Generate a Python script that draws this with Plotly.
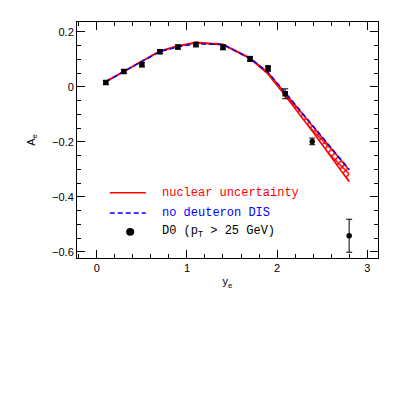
import plotly.graph_objects as go

# curve nodes
ye_curve = [0.1, 0.3, 0.5, 0.7, 0.9, 1.1, 1.4, 1.7, 1.9, 2.1, 2.4, 2.8]
nuc_upper = [0.020, 0.058, 0.096, 0.131, 0.150, 0.162, 0.155, 0.106, 0.052, -0.026, -0.145, -0.302]
nuc_lower = [0.018, 0.056, 0.094, 0.129, 0.148, 0.160, 0.153, 0.103, 0.046, -0.036, -0.165, -0.345]
no_deut = [0.019, 0.057, 0.093, 0.128, 0.146, 0.157, 0.154, 0.104, 0.053, -0.024, -0.143, -0.300]

# D0 data
ye_d0 = [0.1, 0.3, 0.5, 0.7, 0.9, 1.1, 1.4, 1.7, 1.9, 2.09, 2.39, 2.8]
ae_d0 = [0.016, 0.056, 0.081, 0.128, 0.145, 0.154, 0.144, 0.102, 0.067, -0.025, -0.198, -0.541]
err_d0 = [0.007, 0.007, 0.008, 0.007, 0.007, 0.008, 0.009, 0.009, 0.010, 0.018, 0.012, 0.060]
sym_d0 = ["square"] * 10 + ["circle"] * 2

x_ticks = [0, 1, 2, 3]
y_ticks = [0.2, 0, -0.2, -0.4, -0.6]
y_ticktext = ["0.2", "0", "\u22120.2", "\u22120.4", "\u22120.6"]

RED = "#ff0000"
BLUE = "#0000ff"
MONO = "Liberation Mono, Courier New, monospace"
SANS = "Liberation Sans, Arial, sans-serif"

fig = go.Figure()

# hatched uncertainty band
fig.add_trace(go.Scatter(x=ye_curve, y=nuc_lower, mode="lines",
                         line=dict(color=RED, width=1.5), showlegend=False))
fig.add_trace(go.Scatter(x=ye_curve, y=nuc_upper, mode="lines",
                         line=dict(color=RED, width=1.5), fill="tonexty",
                         fillpattern=dict(shape="x", fgcolor=RED, bgcolor="white",
                                          size=5, solidity=0.5, fillmode="replace"),
                         showlegend=False))

fig.add_trace(go.Scatter(x=ye_curve, y=no_deut, mode="lines",
                         line=dict(color=BLUE, width=1.5, dash="5px,3px"),
                         showlegend=False))

fig.add_trace(go.Scatter(x=ye_d0, y=ae_d0, mode="markers",
                         marker=dict(symbol=sym_d0, size=5.5, color="black"),
                         error_y=dict(type="data", array=err_d0, color="black",
                                      thickness=1, width=3),
                         showlegend=False))

# legend drawn by hand
leg = [("nuclear uncertainty", RED, -0.385), ("no deuteron DIS", BLUE, -0.458),
       ("D0 (p<sub>T</sub> > 25 GeV)", "black", -0.527)]
fig.add_shape(type="line", x0=0.144, x1=0.544, y0=leg[0][2], y1=leg[0][2],
              line=dict(color=RED, width=1.5))
fig.add_shape(type="line", x0=0.144, x1=0.544, y0=leg[1][2], y1=leg[1][2],
              line=dict(color=BLUE, width=1.5, dash="5px,3px"))
fig.add_shape(type="circle", x0=0.325, x1=0.415, y0=leg[2][2] - 0.0145, y1=leg[2][2] + 0.0145,
              fillcolor="black", line=dict(color="black", width=0))
for txt, col, yy in leg:
    fig.add_annotation(x=0.70, y=yy, text=txt, showarrow=False, xanchor="left",
                       yanchor="middle", font=dict(family=MONO, size=12, color=col))

axis_common = dict(showgrid=False, zeroline=False, showline=True, linecolor="black",
                   linewidth=1, mirror="ticks", ticks="inside", ticklen=8,
                   tickcolor="black", automargin=False,
                   tickfont=dict(family=SANS, size=11, color="black"))

fig.update_xaxes(range=[-0.22, 3.12], tickvals=x_ticks, ticktext=[str(v) for v in x_ticks],
                 minor=dict(dtick=0.2, tick0=0, ticks="inside", ticklen=4, tickcolor="black"),
                 title=dict(text="y<sub>e</sub>", standoff=4,
                            font=dict(family=SANS, size=11, color="black")),
                 **axis_common)
fig.update_yaxes(range=[-0.622, 0.236], tickvals=y_ticks, ticktext=y_ticktext,
                 minor=dict(dtick=0.05, tick0=0, ticks="inside", ticklen=4, tickcolor="black"),
                 title=dict(text="A<sub>e</sub>", standoff=14,
                            font=dict(family=SANS, size=11, color="black")),
                 **axis_common)

# page body adds an 8px offset, so margins compensate
fig.update_layout(width=399, height=399, plot_bgcolor="white", paper_bgcolor="white",
                  margin=dict(l=69, r=29, t=14, b=149), showlegend=False)

fig.write_html("out.html")
